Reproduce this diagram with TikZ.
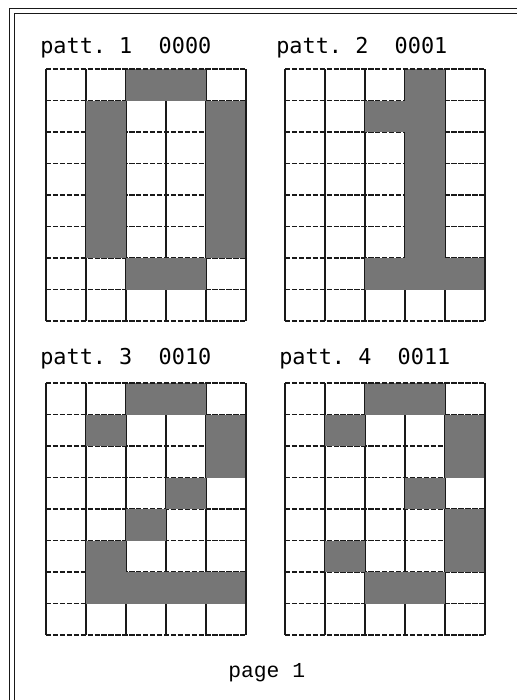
\documentclass[tikz,border=0pt]{standalone}
\usepackage{fontspec}
\newfontfamily\labelfont{DejaVu Sans Mono}
\newfontfamily\pagefont{Liberation Mono}
\definecolor{inkblack}{RGB}{25,25,25}
\definecolor{cellgray}{RGB}{118,118,118}

\tikzset{
  gridline/.style={inkblack,line width=1.1pt},
  gridrule/.style={gridline,dash pattern=on 4pt off 1.2pt},
  cellfill/.style={fill=cellgray},
  pattlabel/.style={anchor=base west,inner sep=0pt,font=\labelfont\fontsize{16.4}{18}\selectfont},
  pagelabel/.style={anchor=base west,inner sep=0pt,font=\pagefont\fontsize{16}{18}\selectfont}
}

% one 5x8 grid, top left corner at (#1,#2), filled cells col/row in #3
\newcommand{\pattgrid}[3]{%
  \begin{scope}[shift={(#1,#2)}]
    \foreach \i in {1,...,4}
      \draw[gridline] (\i*40,0) -- (\i*40,252);
    \foreach \j in {1,...,7}
      \draw[gridrule] (0,\j*31.5) -- (200,\j*31.5);
    \foreach \c/\r in {#3}
      \fill[cellfill] ({(\c-1)*40},{(\r-1)*31.5}) rectangle ++(40,31.5);
    % outer border
    \draw[gridline] (0,0) -- (0,252) (200,0) -- (200,252);
    \draw[gridrule] (0,0) -- (200,0) (0,252) -- (200,252);
  \end{scope}}

\begin{document}
\begin{tikzpicture}[x=0.75pt,y=-0.75pt]

    \useasboundingbox (0,0) rectangle (517,700);

    \fill[white] (0,0) rectangle (517,700);

    % double frame, running off the page at right and bottom

    \begin{scope}

      \clip (0,0) rectangle (517,700);

      \draw[inkblack,line width=1.4pt] (9.5,8.5) rectangle (540,720);

      \draw[inkblack,line width=1.2pt] (14.5,13.5) rectangle (540,720);

    \end{scope}

    % the four patterns

    \pattgrid{46}{69}{3/1,4/1,2/2,2/3,2/4,2/5,2/6,5/2,5/3,5/4,5/5,5/6,3/7,4/7}

    \pattgrid{285}{69}{4/1,3/2,4/2,4/3,4/4,4/5,4/6,3/7,4/7,5/7}

    \pattgrid{46}{383}{3/1,4/1,2/2,5/2,5/3,4/4,3/5,2/6,2/7,3/7,4/7,5/7}

    \pattgrid{285}{383}{3/1,4/1,2/2,5/2,5/3,4/4,5/5,2/6,5/6,3/7,4/7}

    % labels

    \node[pattlabel] (patt1) at (40,53) {patt.~1~~0000};

    \node[pattlabel] (patt2) at (276,53) {patt.~2~~0001};

    \node[pattlabel] (patt3) at (40,364) {patt.~3~~0010};

    \node[pattlabel] (patt4) at (279,364) {patt.~4~~0011};

    \node[pagelabel] (pagenum) at (228,677) {page~1};

  \end{tikzpicture}
\end{document}
